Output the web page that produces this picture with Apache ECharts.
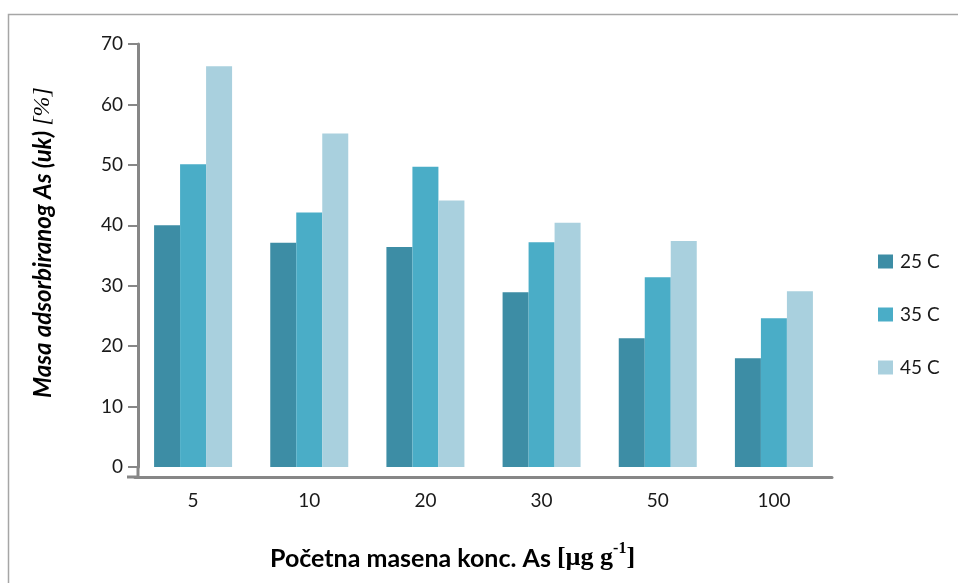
<!DOCTYPE html>
<html>
<head>
<meta charset="utf-8">
<script src="https://cdn.jsdelivr.net/npm/echarts@6/dist/echarts.min.js"></script>
<style>html,body{margin:0;padding:0;background:#fff}#c{width:958px;height:583px}</style>
</head>
<body>
<div id="c"></div>
<script>
const categories = ['5', '10', '20', '30', '50', '100'];
const seriesNames = ['25 C', '35 C', '45 C'];
const values25 = [40.0, 37.1, 36.4, 28.9, 21.3, 18.0];
const values35 = [50.1, 42.1, 49.7, 37.2, 31.4, 24.6];
const values45 = [66.3, 55.2, 44.1, 40.4, 37.4, 29.1];
const yTicks = [0, 10, 20, 30, 40, 50, 60, 70];

const colors = ['#3d8da5', '#4aadc7', '#a9d0de'];
const sans = 'Lato, "Open Sans", sans-serif';
const serif = '"Liberation Serif", "DejaVu Serif", serif';
const axisGray = '#878787';

const chart = echarts.init(document.getElementById('c'));
const allValues = [values25, values35, values45];
chart.setOption({
  animation: false,
  grid: { left: 135, right: 126, top: 44, bottom: 116, containLabel: false },
  legend: {
    orient: 'vertical', left: 873, top: 247, itemWidth: 15, itemHeight: 14, itemGap: 34,
    icon: 'rect',
    textStyle: { fontFamily: sans, fontSize: 19, color: '#1a1a1a', padding: [0, 0, 0, 2] },
    data: seriesNames
  },
  xAxis: {
    type: 'category', data: categories, offset: 10,
    axisLine: { onZero: false, lineStyle: { color: axisGray, width: 3 } },
    axisTick: { show: false },
    axisLabel: { fontFamily: sans, fontSize: 19, color: '#1a1a1a', margin: 14 }
  },
  yAxis: {
    type: 'value', min: yTicks[0], max: yTicks[yTicks.length - 1], interval: 10, offset: -3,
    splitLine: { show: false },
    axisLine: { show: true, lineStyle: { color: axisGray, width: 3 } },
    axisTick: { show: true, length: 10, lineStyle: { color: axisGray, width: 2 } },
    axisLabel: { fontFamily: sans, fontSize: 19, color: '#1a1a1a', margin: 15 },
    name: '{a|Masa adsorbiranog As (uk) }{b|[%]}',
    nameLocation: 'middle', nameRotate: 90, nameGap: 83,
    nameTextStyle: {
      rich: {
        a: { fontFamily: sans, fontSize: 24, fontWeight: 'bold', fontStyle: 'italic', color: '#000' },
        b: { fontFamily: serif, fontSize: 24, fontStyle: 'italic', color: '#000' }
      },
      padding: [0, 0, 0, 26]
    }
  },
  title: {
    left: 265, top: 536,
    text: '{a|Početna masena konc. As }{b|[µg g}{s|-1}{b|]}',
    textStyle: {
      rich: {
        a: { fontFamily: sans, fontSize: 25, fontWeight: 'bold', color: '#000', verticalAlign: 'bottom', lineHeight: 30 },
        b: { fontFamily: serif, fontSize: 26, fontWeight: 'bold', color: '#000', verticalAlign: 'bottom', lineHeight: 30 },
        s: { fontFamily: serif, fontSize: 16, fontWeight: 'bold', color: '#000', verticalAlign: 'top', lineHeight: 30 }
      }
    }
  },
  graphic: [
    { type: 'rect', shape: { x: 8.5, y: 14.5, width: 1000, height: 1000 }, style: { fill: 'none', stroke: '#a6a6a6', lineWidth: 1.5 }, silent: true },
    { type: 'line', shape: { x1: 138, y1: 466, x2: 138, y2: 478 }, style: { stroke: axisGray, lineWidth: 3 }, silent: true },
    { type: 'line', shape: { x1: 127, y1: 477, x2: 138, y2: 477 }, style: { stroke: axisGray, lineWidth: 3 }, silent: true }
  ],
  series: seriesNames.map((n, i) => ({
    name: n, type: 'bar', data: allValues[i], barWidth: 26, barGap: '0%',
    itemStyle: { color: colors[i] }
  }))
});
</script>
</body>
</html>
